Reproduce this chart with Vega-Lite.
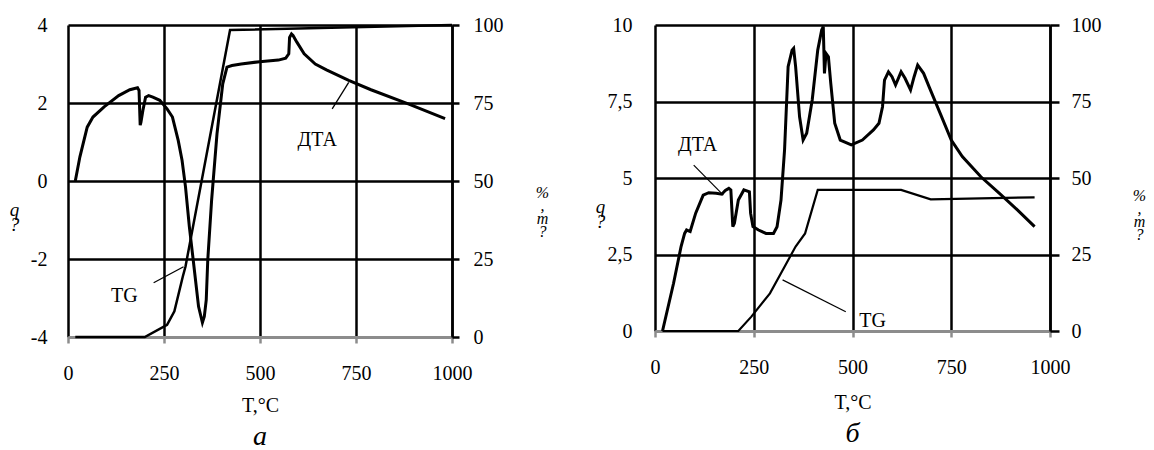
{
  "$schema": "https://vega.github.io/schema/vega-lite/v6.json",
  "padding": {"left": 9, "top": 15, "right": 0, "bottom": 0},
  "autosize": {"type": "pad"},
  "background": "white",
  "config": {
    "font": "Liberation Serif, Times New Roman, serif",
    "view": {"stroke": null},
    "text": {"font": "Liberation Serif, Times New Roman, serif"},
    "axis": {"labelFont": "Liberation Serif, Times New Roman, serif", "labelFontSize": 20, "labelColor": "black", "titleFont": "Liberation Serif, Times New Roman, serif", "titleFontSize": 20, "titleFontWeight": "normal", "titleColor": "black", "labelFlush": false, "labelOverlap": false}
  },
  "datasets": {
    "a_dta": [
      {"T":19,"q":0},{"T":31,"q":0.62},{"T":50,"q":1.38},{"T":65,"q":1.64},{"T":94,"q":1.9},{"T":132,"q":2.19},{"T":161,"q":2.34},{"T":181,"q":2.39},{"T":185,"q":2.32},{"T":188,"q":1.43},{"T":190,"q":1.51},{"T":195,"q":1.81},{"T":202,"q":2.15},{"T":210,"q":2.19},{"T":221,"q":2.15},{"T":239,"q":2.07},{"T":258,"q":1.85},{"T":272,"q":1.64},{"T":287,"q":1.04},{"T":297,"q":0.53},{"T":306,"q":-0.15},{"T":316,"q":-1.17},{"T":326,"q":-2.02},{"T":340,"q":-3.22},{"T":350,"q":-3.63},{"T":355,"q":-3.47},{"T":360,"q":-3.05},{"T":364,"q":-2.02},{"T":374,"q":-0.49},{"T":388,"q":1.21},{"T":403,"q":2.49},{"T":414,"q":2.92},{"T":427,"q":2.96},{"T":451,"q":3.0},{"T":499,"q":3.06},{"T":548,"q":3.1},{"T":567,"q":3.15},{"T":575,"q":3.26},{"T":577,"q":3.68},{"T":582,"q":3.77},{"T":586,"q":3.73},{"T":596,"q":3.56},{"T":615,"q":3.26},{"T":644,"q":3.0},{"T":673,"q":2.85},{"T":731,"q":2.58},{"T":789,"q":2.34},{"T":886,"q":1.98},{"T":982,"q":1.6}
    ],
    "a_tg": [
      {"T":19,"m":0},{"T":200,"m":0},{"T":258,"m":3.9},{"T":277,"m":8.2},{"T":299,"m":19.4},{"T":306,"m":22.6},{"T":422,"m":98.4},{"T":1000,"m":100}
    ],
    "a_lead": [
      {"g":"d","T":688,"q":1.85},{"g":"d","T":731,"q":2.53},
      {"g":"t","T":223,"q":-2.61},{"g":"t","T":301,"q":-2.2}
    ],
    "a_lab": [
      {"label":"ДТА","T":649,"q":1.04},{"label":"TG","T":147,"q":-2.94}
    ],
    "b_dta": [
      {"T":19,"q":0},{"T":47,"q":1.56},{"T":66,"q":2.76},{"T":75,"q":3.19},{"T":80,"q":3.3},{"T":89,"q":3.25},{"T":103,"q":3.85},{"T":122,"q":4.44},{"T":136,"q":4.52},{"T":155,"q":4.5},{"T":169,"q":4.47},{"T":178,"q":4.59},{"T":187,"q":4.66},{"T":192,"q":4.61},{"T":197,"q":3.41},{"T":201,"q":3.52},{"T":211,"q":4.28},{"T":225,"q":4.61},{"T":239,"q":4.55},{"T":242,"q":3.85},{"T":248,"q":3.41},{"T":262,"q":3.3},{"T":281,"q":3.19},{"T":300,"q":3.19},{"T":309,"q":3.41},{"T":319,"q":4.28},{"T":328,"q":5.92},{"T":337,"q":8.64},{"T":347,"q":9.18},{"T":351,"q":9.24},{"T":356,"q":8.64},{"T":366,"q":7.0},{"T":375,"q":6.24},{"T":384,"q":6.46},{"T":398,"q":7.55},{"T":412,"q":9.18},{"T":422,"q":9.84},{"T":426,"q":9.95},{"T":429,"q":8.42},{"T":433,"q":9.07},{"T":439,"q":8.96},{"T":445,"q":8.09},{"T":455,"q":6.79},{"T":469,"q":6.24},{"T":497,"q":6.08},{"T":525,"q":6.24},{"T":553,"q":6.57},{"T":567,"q":6.79},{"T":576,"q":7.33},{"T":581,"q":8.2},{"T":591,"q":8.47},{"T":600,"q":8.31},{"T":609,"q":8.04},{"T":623,"q":8.47},{"T":633,"q":8.26},{"T":647,"q":7.88},{"T":656,"q":8.31},{"T":665,"q":8.69},{"T":680,"q":8.42},{"T":694,"q":7.98},{"T":722,"q":7.11},{"T":750,"q":6.24},{"T":778,"q":5.7},{"T":825,"q":5.04},{"T":872,"q":4.5},{"T":918,"q":3.95},{"T":961,"q":3.41}
    ],
    "b_tg": [
      {"T":19,"m":0},{"T":211,"m":0},{"T":244,"m":4.7},{"T":291,"m":12.3},{"T":328,"m":21},{"T":356,"m":27.6},{"T":380,"m":31.9},{"T":412,"m":46.1},{"T":623,"m":46.1},{"T":698,"m":43.0},{"T":961,"m":43.7}
    ],
    "b_lead": [
      {"g":"d","T":98,"q":5.42},{"g":"d","T":173,"q":4.44},
      {"g":"t","T":323,"q":1.67},{"g":"t","T":483,"q":0.63}
    ],
    "b_lab": [
      {"label":"ДТА","T":108,"q":6.08},{"label":"TG","T":551,"q":0.34}
    ]
  },
  "hconcat": [
    {
      "width": 384,
      "height": 312,
      "title": {"text": "а", "orient": "bottom", "anchor": "middle", "font": "Liberation Serif, Times New Roman, serif", "fontSize": 28, "fontStyle": "italic", "fontWeight": "normal", "color": "black", "offset": 8},
      "layer": [
        {
          "layer": [
            {
              "data": {"name": "a_dta"},
              "mark": {"type": "line", "color": "black", "strokeWidth": 3},
              "encoding": {
                "x": {"field": "T", "type": "quantitative", "scale": {"domain": [0, 1000]},
                  "axis": {"values": [0, 250, 500, 750, 1000], "labelExpr": "'' + datum.value", "grid": true, "gridColor": "black", "gridWidth": 2.5, "domainColor": "#8c8c8c", "domainWidth": 3, "tickColor": "#8c8c8c", "tickWidth": 2.5, "tickSize": 6, "labelPadding": 20, "title": "T,°C", "titlePadding": 12}},
                "y": {"field": "q", "type": "quantitative", "scale": {"domain": [-4, 4]},
                  "axis": {"values": [-4, -2, 0, 2, 4], "labelExpr": "datum.value < 0 ? '-' + abs(datum.value) : '' + datum.value", "grid": true, "gridColor": {"condition": {"test": "datum.value === -4", "value": "#8c8c8c"}, "value": "black"}, "gridWidth": 2.5, "domain": false, "ticks": false, "tickSize": 0, "labelPadding": 21, "title": ["q", "?"], "titleAngle": 0, "titleX": -54, "titleY": 184, "titleAlign": "center", "titleBaseline": "middle", "titleFontStyle": "italic", "titleFontSize": 19, "titleLineHeight": 15}}
              }
            },
            {
              "data": {"name": "a_lead"},
              "mark": {"type": "line", "color": "black", "strokeWidth": 1.3},
              "encoding": {
                "x": {"field": "T", "type": "quantitative"},
                "y": {"field": "q", "type": "quantitative"},
                "detail": {"field": "g"}
              }
            },
            {
              "data": {"name": "a_lab"},
              "mark": {"type": "text", "font": "Liberation Serif, Times New Roman, serif", "fontSize": 20, "color": "black", "align": "center", "baseline": "middle"},
              "encoding": {
                "x": {"field": "T", "type": "quantitative"},
                "y": {"field": "q", "type": "quantitative"},
                "text": {"field": "label"}
              }
            }
          ]
        },
        {
          "data": {"name": "a_tg"},
          "mark": {"type": "line", "color": "black", "strokeWidth": 2.5},
          "encoding": {
            "x": {"field": "T", "type": "quantitative"},
            "y": {"field": "m", "type": "quantitative", "scale": {"domain": [0, 100]},
              "axis": {"orient": "right", "values": [0, 25, 50, 75, 100], "labelExpr": "'' + datum.value", "grid": false, "domainColor": "black", "domainWidth": 2.5, "tickColor": "black", "tickWidth": 2.5, "tickSize": 7, "labelPadding": 14, "title": ["%", ",", "m", "?"], "titleAngle": 0, "titleX": 90, "titleY": 167, "titleAlign": "center", "titleBaseline": "middle", "titleFontStyle": "italic", "titleFontSize": 16, "titleLineHeight": 13}}
          }
        }
      ],
      "resolve": {"scale": {"y": "independent"}}
    },
    {
      "width": 395,
      "height": 306,
      "title": {"text": "б", "orient": "bottom", "anchor": "middle", "font": "Liberation Serif, Times New Roman, serif", "fontSize": 28, "fontStyle": "italic", "fontWeight": "normal", "color": "black", "offset": 8},
      "layer": [
        {
          "layer": [
            {
              "data": {"name": "b_dta"},
              "mark": {"type": "line", "color": "black", "strokeWidth": 3},
              "encoding": {
                "x": {"field": "T", "type": "quantitative", "scale": {"domain": [0, 1000]},
                  "axis": {"values": [0, 250, 500, 750, 1000], "labelExpr": "'' + datum.value", "grid": true, "gridColor": "black", "gridWidth": 2.5, "domainColor": "#8c8c8c", "domainWidth": 3, "tickColor": "#8c8c8c", "tickWidth": 2.5, "tickSize": 6, "labelPadding": 20, "title": "T,°C", "titlePadding": 15}},
                "y": {"field": "q", "type": "quantitative", "scale": {"domain": [0, 10]},
                  "axis": {"values": [0, 2.5, 5, 7.5, 10], "labelExpr": "replace('' + datum.value, '.', ',')", "grid": true, "gridColor": {"condition": {"test": "datum.value === 0", "value": "#8c8c8c"}, "value": "black"}, "gridWidth": 2.5, "domain": false, "ticks": false, "tickSize": 0, "labelPadding": 23, "title": ["q", "?"], "titleAngle": 0, "titleX": -55, "titleY": 181, "titleAlign": "center", "titleBaseline": "middle", "titleFontStyle": "italic", "titleFontSize": 19, "titleLineHeight": 15}}
              }
            },
            {
              "data": {"name": "b_lead"},
              "mark": {"type": "line", "color": "black", "strokeWidth": 1.2},
              "encoding": {
                "x": {"field": "T", "type": "quantitative"},
                "y": {"field": "q", "type": "quantitative"},
                "detail": {"field": "g"}
              }
            },
            {
              "data": {"name": "b_lab"},
              "mark": {"type": "text", "font": "Liberation Serif, Times New Roman, serif", "fontSize": 20, "color": "black", "align": "center", "baseline": "middle"},
              "encoding": {
                "x": {"field": "T", "type": "quantitative"},
                "y": {"field": "q", "type": "quantitative"},
                "text": {"field": "label"}
              }
            }
          ]
        },
        {
          "data": {"name": "b_tg"},
          "mark": {"type": "line", "color": "black", "strokeWidth": 2.2},
          "encoding": {
            "x": {"field": "T", "type": "quantitative"},
            "y": {"field": "m", "type": "quantitative", "scale": {"domain": [0, 100]},
              "axis": {"orient": "right", "values": [0, 25, 50, 75, 100], "labelExpr": "'' + datum.value", "grid": false, "domainColor": "black", "domainWidth": 2.5, "tickColor": "black", "tickWidth": 2.5, "tickSize": 9, "labelPadding": 12, "title": ["%", ",", "m", "?"], "titleAngle": 0, "titleX": 89, "titleY": 170, "titleAlign": "center", "titleBaseline": "middle", "titleFontStyle": "italic", "titleFontSize": 16, "titleLineHeight": 13}}
          }
        }
      ],
      "resolve": {"scale": {"y": "independent"}}
    }
  ],
  "spacing": 203,
  "bounds": "flush"
}
